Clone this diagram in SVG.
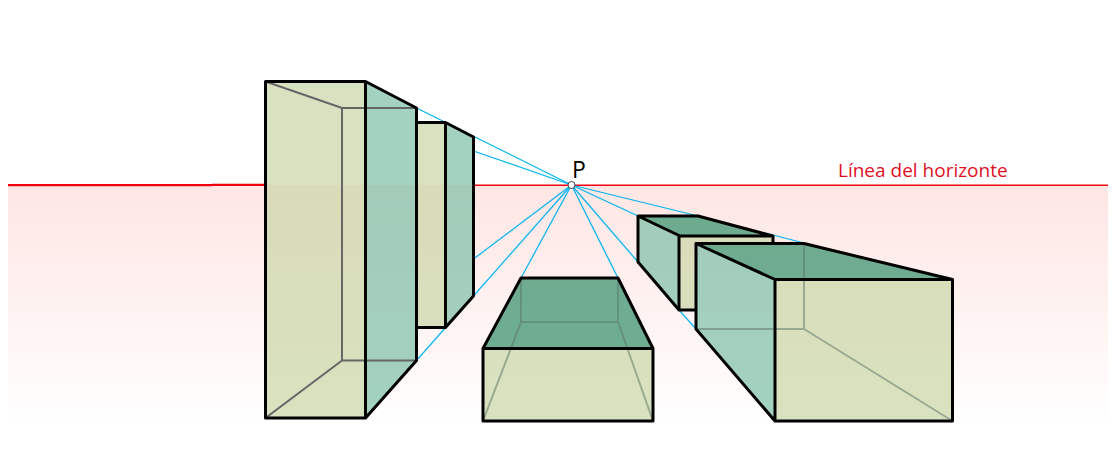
<svg xmlns="http://www.w3.org/2000/svg" width="1114" height="452" viewBox="0 0 1114 452">
<style>
.f{fill:#c9d6a5;fill-opacity:.7}
.s{fill:#7cbfa5;fill-opacity:.7}
.t{fill:#318f68;fill-opacity:.7}
.k{fill:url(#k)}
.e{fill:none;stroke:#000;stroke-width:3;stroke-linejoin:round;stroke-linecap:round}
.b{fill:none;stroke:#666;stroke-width:2}
.h{fill:none;stroke:#5c7366;stroke-opacity:.5;stroke-width:2}
.c{stroke:#00b4f0;stroke-width:1.2;fill:none}
.r{stroke:#f0000f;fill:none}
.l{font-family:"Open Sans","Noto Sans",sans-serif}
</style>
<defs>
<linearGradient id="g" gradientUnits="userSpaceOnUse" x1="0" y1="185" x2="0" y2="428">
<stop offset="0" stop-color="#fee6e4"/>
<stop offset="1" stop-color="#fff"/>
</linearGradient>
<linearGradient id="k" gradientUnits="userSpaceOnUse" x1="0" y1="0" x2="0" y2="428">
<stop offset=".4322" stop-color="#fff"/>
<stop offset=".4322" stop-color="#fee6e4"/>
<stop offset="1" stop-color="#fff"/>
</linearGradient>
</defs>
<g id="background">
<rect x="8" y="185" width="1100" height="243" fill="url(#g)"/>
<path class="r" stroke-width="1.600" d="M8 185.200H1108"/>
<path class="r" stroke-width="2.200" d="M8 185.200H212"/>
<path class="r" stroke-width="2.200" d="M212 184.800H266"/>
</g>
<g id="connectors">
<path class="c" d="M416.500 108L571.500 185"/>
<path class="c" d="M473.500 151L571.500 185"/>
<path class="c" d="M473.500 259L571.500 185"/>
<path class="c" d="M416.500 360.500L571.500 185"/>
<path class="c" d="M521 278L571.500 185"/>
<path class="c" d="M618 278L571.500 185"/>
<path class="c" d="M638 216L571.500 185"/>
<path class="c" d="M638 262L571.500 185"/>
<path class="c" d="M696 329L679 310"/>
<path class="c" d="M698 216L571.500 185"/>
<path class="c" d="M804 243L765 233"/>
</g>
<g id="box-left-small">
<path class="k" d="M416.500 122.500H445.500L473.500 137V296L445.500 327.500H416.500Z"/>
<rect class="f" x="416.500" y="122.500" width="29" height="205"/>
<path class="s" d="M445.500 122.500L473.500 137V296L445.500 327.500Z"/>
<path class="e" d="M416.500 122.500H445.500L473.500 137V296L445.500 327.500H416.500M445.500 122.500V327.500"/>
</g>
<g id="box-left-large">
<path class="k" d="M265.500 81.500H365.500L416.500 108V360.500L365.500 418H265.500Z"/>
<rect class="f" x="265.500" y="81.500" width="100" height="336.500"/>
<path class="s" d="M365.500 81.500L416.500 108V360.500L365.500 418Z"/>
<path class="b" d="M265.500 81.500L342 108H416.500M342 108V360.500H416.500M265.500 418L342 360.500"/>
<path class="e" d="M265.500 81.500H365.500L416.500 108V360.500L365.500 418H265.500ZM365.500 81.500V418"/>
</g>
<g id="box-bottom">
<path class="k" d="M483 348.500L521 278H618L653 348.500V421H483Z"/>
<rect class="f" x="483" y="348.500" width="170" height="72.500"/>
<path class="t" d="M483 348.500L521 278H618L653 348.500Z"/>
<path class="h" d="M521 278V322H618V278M521 322L483 421M618 322L653 421"/>
<path class="e" d="M483 348.500L521 278H618L653 348.500V421H483ZM483 348.500H653"/>
</g>
<g id="box-right-back">
<path class="k" d="M638 216H698L773 236V310H679L638 262Z"/>
<path class="s" d="M638 216L679 235V310L638 262Z"/>
<rect class="f" x="679" y="235.500" width="94" height="74.500"/>
<path class="t" d="M638 216H698L773 236H679Z"/>
<path class="e" d="M638 216H698L773 236V243M773 236H679M638 216L679 235.500V310L638 262ZM679 310H696"/>
</g>
<g id="box-right-front">
<path class="k" d="M696 243.500H804L952.500 279.500V421H775L696 329Z"/>
<rect class="f" x="775" y="279.500" width="177.500" height="141.500"/>
<path class="s" d="M696 243.500L775 279.500V421L696 329Z"/>
<path class="t" d="M696 243.500H804L952.500 279.500H775Z"/>
<path class="h" d="M804 243.500V329H696M804 329L952.500 421"/>
<path class="e" d="M696 243.500H804L952.500 279.500V421H775L696 329ZM696 243.500L775 279.500H952.500M775 279.500V421"/>
</g>
<g id="point-p">
<circle cx="571.500" cy="185" r="3.500" fill="#fff" stroke="#444" stroke-width="1"/>
<text class="l" x="572" y="178" font-size="23" fill="#000">P</text>
</g>
<g id="label-horizonte">
<text class="l" x="838" y="177" font-size="19" fill="#e0101f">Línea del horizonte</text>
</g>
</svg>
